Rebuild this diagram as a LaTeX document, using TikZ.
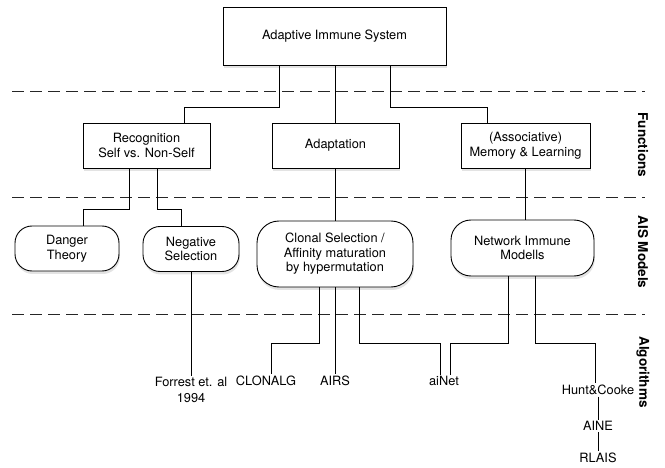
\documentclass[tikz,border=0pt]{standalone}
\usepackage{fontspec}
\setmainfont{TeX Gyre Heros}
\usetikzlibrary{shadows}
\begin{document}
\begin{tikzpicture}[x=1pt,y=-1pt,
  box/.style={draw, line width=0.9pt, fill=white, align=center, inner sep=0pt,
    font=\fontsize{12.8}{14.5}\selectfont,
    drop shadow={opacity=0.22, shadow xshift=0.8pt, shadow yshift=-3pt}},
  rbox/.style={box, rounded corners=17pt},
  conn/.style={line width=0.75pt},
  sepline/.style={line width=0.9pt, black!85, dash pattern=on 12pt off 6pt},
  lab/.style={font=\fontsize{13.5}{15}\selectfont\bfseries, rotate=-90},
  alg/.style={inner sep=1.5pt, align=center, font=\fontsize{12.8}{15.5}\selectfont}]
\useasboundingbox (0,0) rectangle (665,468);
% separators
\coordinate (s1a) at (12,91);  \coordinate (s1b) at (645,91);
\coordinate (s2a) at (12,197); \coordinate (s2b) at (645,197);
\coordinate (s3a) at (12,314); \coordinate (s3b) at (645,314);
\draw[sepline] (s1a) -- (s1b);
\draw[sepline] (s2a) -- (s2b);
\draw[sepline] (s3a) -- (s3b);
% labels
\node[lab] (lfun) at (643,145) {Functions};
\node[lab] (lais) at (643,252) {AIS Models};
\node[lab] (lalg) at (643,372) {Algorithms};
% boxes
\node[box, minimum width=223pt, minimum height=58pt] (ais) at (334.5,36) {Adaptive Immune System};
\node[box, minimum width=127pt, minimum height=45pt] (rec) at (146.5,145.5) {Recognition\\Self vs. Non-Self};
\node[box, minimum width=127pt, minimum height=45pt] (adapt) at (335.5,145.5) {Adaptation};
\node[box, minimum width=129pt, minimum height=45pt] (mem) at (525.5,145.5) {(Associative)\\Memory \& Learning};
\node[rbox, minimum width=104pt, minimum height=45pt] (danger) at (67,248.5) {Danger\\Theory};
\node[rbox, minimum width=96pt, minimum height=45pt] (neg) at (191,249) {Negative\\Selection};
\node[rbox, rounded corners=22pt, minimum width=156pt, minimum height=66pt] (clonal) at (335,254) {Clonal Selection /\\Affinity maturation\\by hypermutation};
\node[rbox, rounded corners=20pt, minimum width=143pt, minimum height=56pt] (net) at (522.5,248) {Network Immune\\Modells};
% algorithms
\node[alg] (forrest) at (191,390) {Forrest et. al\\1994};
\node[alg] (clonalg) at (266,381) {CLONALG};
\node[alg] (airs) at (335,381) {AIRS};
\node[alg] (ainet) at (444,381) {aiNet};
\node[alg] (hunt) at (598,390) {Hunt\&Cooke};
\node[alg] (aine) at (598,426) {AINE};
\node[alg] (rlais) at (598,458) {RLAIS};
% connectors level 1
\coordinate (a1) at (279,107); \coordinate (a2) at (184,107);
\coordinate (a3) at (390,107); \coordinate (a4) at (487,107);
\draw[conn] (ais.south -| a1) -- (a1) -- (a2) -- (a2 |- rec.north);
\draw[conn] (ais.south -| adapt.north) -- (adapt.north);
\draw[conn] (ais.south -| a3) -- (a3) -- (a4) -- (a4 |- mem.north);
% level 2
\coordinate (b1) at (129,209); \coordinate (b2) at (83,209);
\coordinate (b3) at (157,209); \coordinate (b4) at (181,209);
\draw[conn] (rec.south -| b1) -- (b1) -- (b2) -- (b2 |- danger.north);
\draw[conn] (rec.south -| b3) -- (b3) -- (b4) -- (b4 |- neg.north);
\draw[conn] (adapt.south) -- (adapt.south |- clonal.north);
\draw[conn] (mem.south) -- (mem.south |- net.north);
% level 3
\draw[conn] (neg.south) -- (neg.south |- forrest.north);
\coordinate (c1) at (319,343); \coordinate (c2) at (271,343);
\draw[conn] (clonal.south -| c1) -- (c1) -- (c2) -- (c2 |- clonalg.north);
\draw[conn] (clonal.south -| airs.north) -- (airs.north);
\coordinate (c3) at (359,343); \coordinate (c4) at (440,343);
\draw[conn] (clonal.south -| c3) -- (c3) -- (c4) -- (c4 |- ainet.north);
\coordinate (d1) at (508,343); \coordinate (d2) at (450,343);
\draw[conn] (net.south -| d1) -- (d1) -- (d2) -- (d2 |- ainet.north);
\coordinate (d3) at (535,343); \coordinate (d4) at (595,343);
\draw[conn] (net.south -| d3) -- (d3) -- (d4) -- (d4 |- hunt.north);
\draw[conn] (hunt.south) -- (aine.north);
\draw[conn] (aine.south) -- (rlais.north);
\end{tikzpicture}
\end{document}
